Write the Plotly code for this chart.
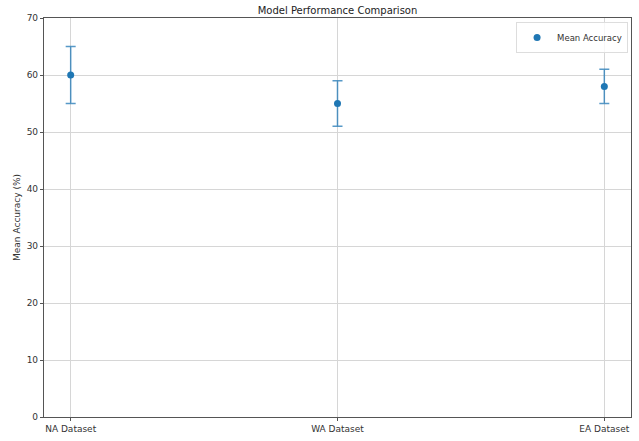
import plotly.graph_objects as go

datasets = ["NA Dataset", "WA Dataset", "EA Dataset"]
mean_accuracy = [60, 55, 58]
accuracy_err = [5, 4, 3]
y_ticks = [0, 10, 20, 30, 40, 50, 60, 70]

blue = "#1f77b4"
font = dict(family="DejaVu Sans", size=9, color="#333333")

fig = go.Figure()
fig.add_trace(go.Scatter(
    x=list(range(len(datasets))),
    y=mean_accuracy,
    mode="markers",
    name="Mean Accuracy",
    marker=dict(color=blue, size=7),
    error_y=dict(type="data", array=accuracy_err, visible=True,
                 color="rgba(31,119,180,0.75)", thickness=1.5, width=5),
))

fig.update_layout(
    width=639, height=441,
    margin=dict(l=44, r=7, t=18, b=21),
    paper_bgcolor="white", plot_bgcolor="white",
    font=font,
    title=dict(text="Model Performance Comparison", x=0.5, xref="paper",
               y=0.985, yanchor="top", font=dict(size=10, color="#222222")),
    showlegend=True,
    legend=dict(x=0.995, y=0.99, xanchor="right", yanchor="top",
                bgcolor="rgba(255,255,255,0.8)", bordercolor="#dddddd",
                borderwidth=1, font=dict(size=8.5), itemwidth=30,
                tracegroupgap=0),
)
fig.update_xaxes(
    range=[-0.1, 2.1], tickmode="array",
    tickvals=list(range(len(datasets))), ticktext=datasets,
    showgrid=True, gridcolor="#d6d6d6", gridwidth=1,
    showline=True, linecolor="#555555", linewidth=1.2, mirror=True,
    ticks="outside", ticklen=3, tickcolor="#555555", zeroline=False,
)
fig.update_yaxes(
    range=[0, 70], tickvals=y_ticks,
    title=dict(text="Mean Accuracy (%)", standoff=4, font=dict(size=9)),
    showgrid=True, gridcolor="#d6d6d6", gridwidth=1,
    showline=True, linecolor="#555555", linewidth=1.2, mirror=True,
    ticks="outside", ticklen=3, tickcolor="#555555", zeroline=False,
)

fig.write_html("out.html")
